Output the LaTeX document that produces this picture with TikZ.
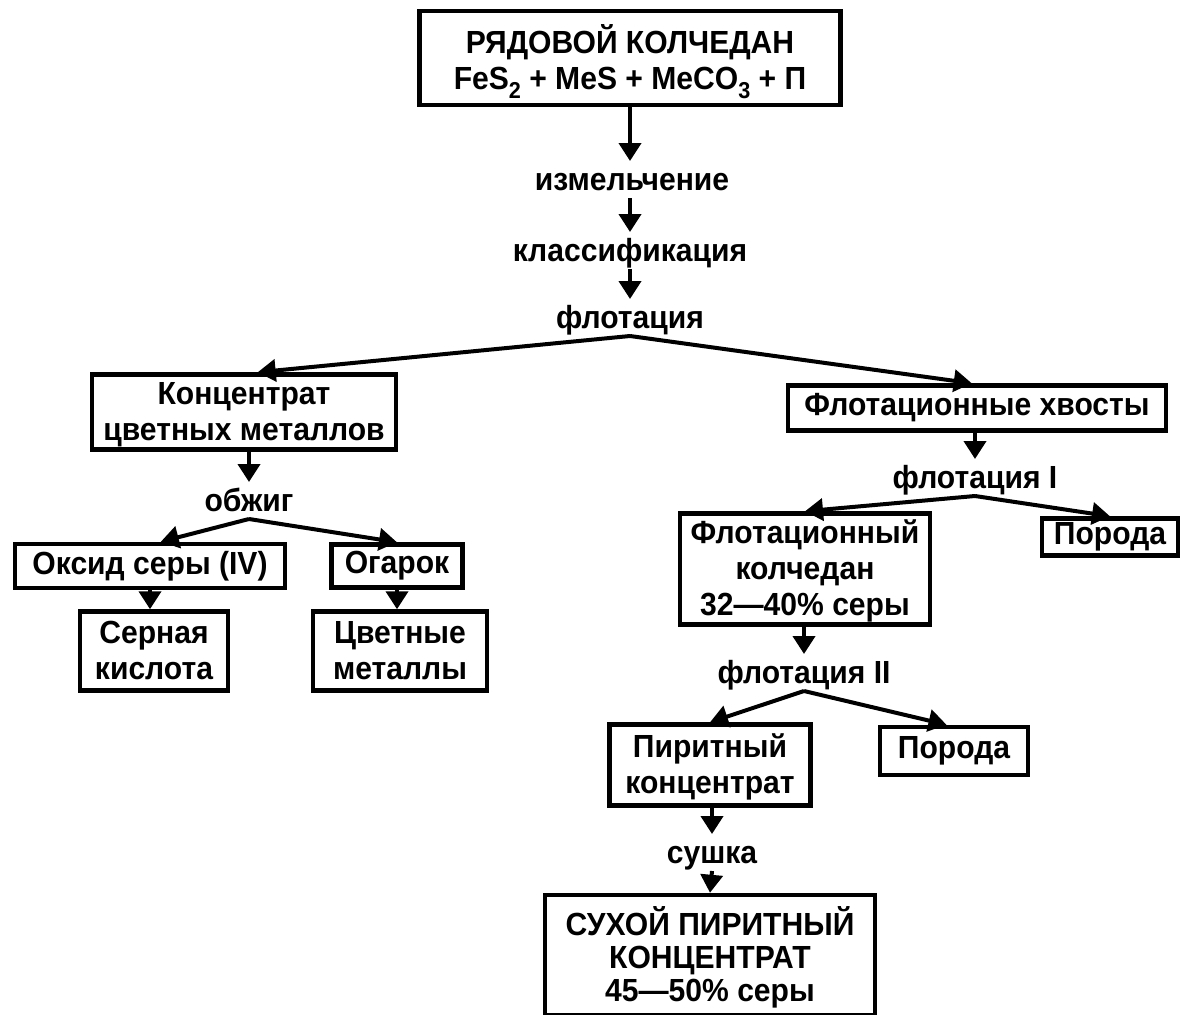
\documentclass[tikz,border=0pt]{standalone}
\usepackage{fontspec}
\setmainfont[FakeStretch=0.94]{Liberation Sans}
\usetikzlibrary{arrows.meta}
\newcommand{\boxLine}{4.5pt}
\newcommand{\arrowLine}{4pt}
\newcommand{\flowFont}{\fontsize{32}{36}\selectfont\bfseries}
\newcommand{\flowStrut}{\rule[-2pt]{0pt}{35pt}}
\newcommand{\chemSub}[1]{\raisebox{-0.28em}{\fontsize{23}{23}\selectfont #1}}

\begin{document}
\begin{tikzpicture}[x=1pt, y=-1pt,
    every node/.style={font=\flowFont},
    stage/.style={draw, line width=\boxLine, align=center, inner sep=0pt},
    stack/.style={stage, text depth=2pt, execute at begin node=\flowStrut},
    oper/.style={inner sep=0pt, text height=16pt, text depth=0pt, outer sep=8pt},
    flow/.style={line width=\arrowLine, -{Triangle[width=22pt,length=18pt]}},
    intolabel/.style={flow, shorten >=5pt}]
\useasboundingbox (0,0) rectangle (1182,1014);

% main line
\node[stack, minimum width=421pt, minimum height=94pt] (ore) at (630,58)
  {РЯДОВОЙ КОЛЧЕДАН\\FeS\chemSub{2} + MeS + MeCO\chemSub{3} + П};
\node[oper] (grind) at (632,182) {измельчение};
\node[oper] (classif) at (630,253) {классификация};
\node[oper] (flot) at (630,320) {флотация};

% left branch
\node[stack, minimum width=304pt, minimum height=75pt] (conc) at (244,412) {Концентрат\\цветных металлов};
\node[oper] (roast) at (249,503) {обжиг};
\node[stage, minimum width=270pt, minimum height=44pt] (oxide) at (150,566) {Оксид серы (IV)};
\node[stage, minimum width=131pt, minimum height=43pt] (cinder) at (397,566) {Огарок};
\node[stack, minimum width=148pt, minimum height=79pt] (acid) at (154,651) {Серная\\кислота};
\node[stack, minimum width=174pt, minimum height=79pt] (metals) at (400,651) {Цветные\\металлы};

% right branch
\node[stage, minimum width=378pt, minimum height=45pt] (tails) at (977,408) {Флотационные хвосты};
\node[oper] (flotA) at (975,480) {флотация I};
\node[stack, minimum width=250pt, minimum height=111pt] (pyrflot) at (805,569) {Флотационный\\колчедан\\32—40\% серы};
\node[stage, minimum width=136pt, minimum height=37pt] (rockA) at (1110,537) {Порода};
\node[oper] (flotB) at (804,675) {флотация II};
\node[stack, minimum width=201pt, minimum height=81pt] (pyrconc) at (710,765) {Пиритный\\концентрат};
\node[stage, minimum width=148pt, minimum height=48pt] (rockB) at (954,751) {Порода};
\node[oper] (dry) at (712,855) {сушка};
\node[stack, minimum width=330pt, minimum height=120pt] (product) at (710,955)
  {СУХОЙ ПИРИТНЫЙ\\[-3pt]КОНЦЕНТРАТ\\[-3pt]45—50\% серы};

% arrows
\draw[intolabel] (ore.south -| classif.north) -- (grind.north -| classif.north);
\draw[intolabel] (grind.south -| classif.north) -- (classif.north);
\draw[intolabel] (classif.south) -- (flot.north);
\draw[flow] (flot.south) -- (conc.71);
\draw[flow] (flot.south) -- (tails.102);

\draw[intolabel] (conc.south -| roast.north) -- (roast.north);
\draw[flow] (roast.south) -- (oxide.66);
\draw[flow] (roast.south) -- (cinder.north);
\draw[flow] (oxide.south) -- (oxide.south |- acid.north);
\draw[flow] (cinder.south) -- (cinder.south |- metals.north);

\draw[intolabel] (tails.south -| flotA.north) -- (flotA.north);
\draw[flow] (flotA.south) -- (pyrflot.north);
\draw[flow] (flotA.south) -- (rockA.north);
\draw[intolabel] (pyrflot.south -| flotB.north) -- (flotB.north);
\draw[flow] (flotB.south) -- (pyrconc.north);
\draw[flow] (flotB.south) -- (rockB.106);
\draw[intolabel] (pyrconc.south -| dry.north) -- (dry.north);
\draw[flow] (dry.south) -- (product.north);
\end{tikzpicture}
\end{document}
